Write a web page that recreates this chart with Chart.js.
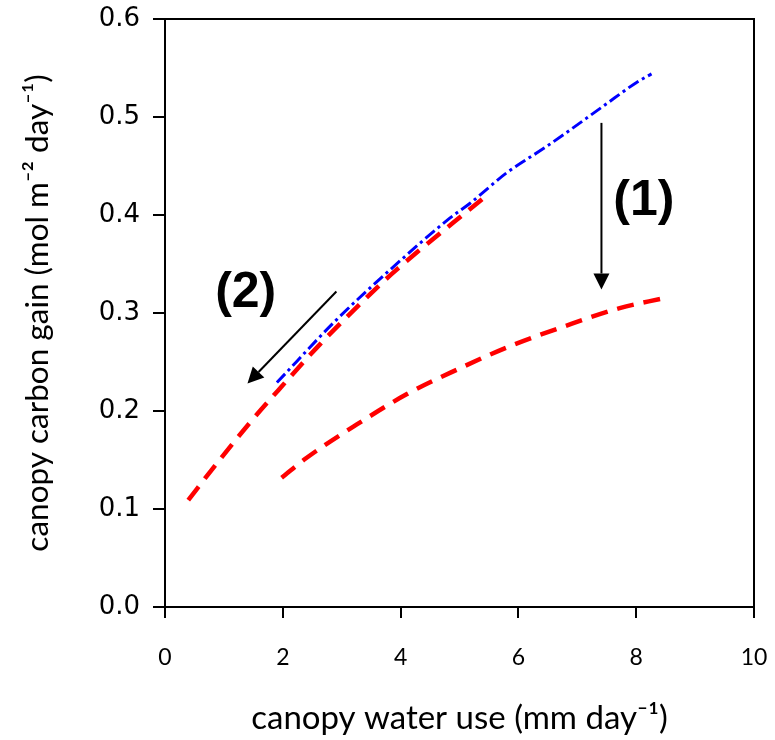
<!DOCTYPE html>
<html>
<head>
<meta charset="utf-8">
<script src="https://cdn.jsdelivr.net/npm/chart.js@4.4.1/dist/chart.umd.min.js"></script>
<style>
  html, body { margin: 0; padding: 0; background: #fff; }
  #wrap { width: 775px; height: 740px; position: relative; }
</style>
</head>
<body>
<div id="wrap"><canvas id="c" width="775" height="740"></canvas></div>
<script>
// ---- data ----
const blueX  = [1.90, 2.91, 3.82, 4.84, 5.18, 5.80, 6.48, 7.44, 8.00, 8.26];
const blueY  = [0.229, 0.293, 0.344, 0.397, 0.412, 0.443, 0.470, 0.511, 0.535, 0.544];

const upperRedX = [0.395, 0.82, 1.44, 1.98, 2.63, 3.48, 3.87, 5.40];
const upperRedY = [0.109, 0.142, 0.188, 0.225, 0.268, 0.319, 0.341, 0.417];

const lowerRedX = [1.98, 2.40, 3.25, 4.10, 4.95, 5.85, 6.76, 7.72, 8.46];
const lowerRedY = [0.132, 0.152, 0.186, 0.217, 0.242, 0.266, 0.286, 0.305, 0.315];

const xTickValues = [0, 2, 4, 6, 8, 10];
const yTickValues = [0.0, 0.1, 0.2, 0.3, 0.4, 0.5, 0.6];

const arrowLabels = ["(1)", "(2)"];
const arrowFrom = [[7.41, 0.494], [2.91, 0.322]];
const arrowTo   = [[7.41, 0.324], [1.40, 0.228]];
const labelPos  = [[8.13, 0.414], [1.37, 0.320]];

const xTitle = "canopy water use (mm day\u207B\u00B9)";
const yTitle = "canopy carbon gain (mol m\u207B\u00B2 day\u207B\u00B9)";

const toPts = (xs, ys) => xs.map((x, i) => ({ x: x, y: ys[i] }));

// ---- plugins ----
const frame = {
  id: 'frame',
  afterDatasetsDraw(chart) {
    const { ctx, chartArea: a } = chart;
    ctx.save();
    ctx.strokeStyle = '#000';
    ctx.lineWidth = 2;
    ctx.strokeRect(a.left, a.top, a.right - a.left, a.bottom - a.top);
    ctx.restore();
  }
};

const arrows = {
  id: 'arrows',
  afterDatasetsDraw(chart) {
    const { ctx, scales: { x, y } } = chart;
    ctx.save();
    arrowFrom.forEach((f, i) => {
      const x1 = x.getPixelForValue(f[0]), y1 = y.getPixelForValue(f[1]);
      const x2 = x.getPixelForValue(arrowTo[i][0]), y2 = y.getPixelForValue(arrowTo[i][1]);
      const ang = Math.atan2(y2 - y1, x2 - x1);
      const headLen = 16, headW = 8;
      const bx = x2 - headLen * Math.cos(ang), by = y2 - headLen * Math.sin(ang);
      ctx.strokeStyle = '#000';
      ctx.lineWidth = 2;
      ctx.beginPath();
      ctx.moveTo(x1, y1);
      ctx.lineTo(bx, by);
      ctx.stroke();
      ctx.fillStyle = '#000';
      ctx.beginPath();
      ctx.moveTo(x2, y2);
      ctx.lineTo(bx + headW * Math.sin(ang), by - headW * Math.cos(ang));
      ctx.lineTo(bx - headW * Math.sin(ang), by + headW * Math.cos(ang));
      ctx.closePath();
      ctx.fill();
    });
    ctx.font = 'bold 50px "Liberation Sans", Arial, sans-serif';
    ctx.textAlign = 'center';
    ctx.textBaseline = 'middle';
    ctx.fillStyle = '#000';
    labelPos.forEach((p, i) => {
      ctx.fillText(arrowLabels[i], x.getPixelForValue(p[0]), y.getPixelForValue(p[1]));
    });
    ctx.restore();
  }
};

Chart.defaults.color = '#000';

new Chart(document.getElementById('c'), {
  type: 'line',
  data: {
    datasets: [
      {
        label: 'upper red',
        data: toPts(upperRedX, upperRedY),
        borderColor: '#ff0000',
        borderWidth: 4.5,
        borderDash: [17, 10],
        pointRadius: 0,
        cubicInterpolationMode: 'monotone',
        fill: false
      },
      {
        label: 'lower red',
        data: toPts(lowerRedX, lowerRedY),
        borderColor: '#ff0000',
        borderWidth: 4.5,
        borderDash: [17, 10],
        pointRadius: 0,
        cubicInterpolationMode: 'monotone',
        fill: false
      },
      {
        label: 'blue',
        data: toPts(blueX, blueY),
        borderColor: '#0000ff',
        borderWidth: 3,
        borderDash: [12, 4, 3, 4],
        pointRadius: 0,
        cubicInterpolationMode: 'monotone',
        fill: false
      }
    ]
  },
  options: {
    responsive: false,
    animation: false,
    events: [],
    layout: { padding: { left: 0, right: 21, top: 19, bottom: 0 } },
    plugins: { legend: { display: false }, tooltip: { enabled: false } },
    scales: {
      x: {
        type: 'linear',
        min: 0, max: 10,
        afterFit(s) { s.height = 133; s.paddingLeft = 0; s.paddingRight = 0; },
        afterBuildTicks(s) { s.ticks = xTickValues.map(v => ({ value: v })); },
        ticks: {
          font: { family: 'Lato', size: 23 },
          padding: 26,
          maxRotation: 0,
          callback: v => String(v)
        },
        grid: { display: true, drawOnChartArea: false, drawTicks: true, tickLength: 11, color: '#000', lineWidth: 2 },
        border: { display: true, color: '#000', width: 2 },
        title: { display: true, text: xTitle, font: { family: 'Lato', size: 33 }, padding: { top: 0, bottom: 2 } }
      },
      y: {
        type: 'linear',
        min: 0, max: 0.6,
        afterFit(s) { s.width = 165; s.paddingTop = 0; s.paddingBottom = 0; },
        afterBuildTicks(s) { s.ticks = yTickValues.map(v => ({ value: v })); },
        ticks: {
          font: { family: 'DejaVu Sans', size: 26 },
          padding: 13,
          callback: v => Number(v).toFixed(1)
        },
        grid: { display: true, drawOnChartArea: false, drawTicks: true, tickLength: 12, color: '#000', lineWidth: 2 },
        border: { display: true, color: '#000', width: 2 },
        title: { display: true, text: yTitle, font: { family: 'Lato', size: 31.5 }, padding: { top: 19, bottom: 0 } }
      }
    }
  },
  plugins: [frame, arrows]
});
</script>
</body>
</html>
